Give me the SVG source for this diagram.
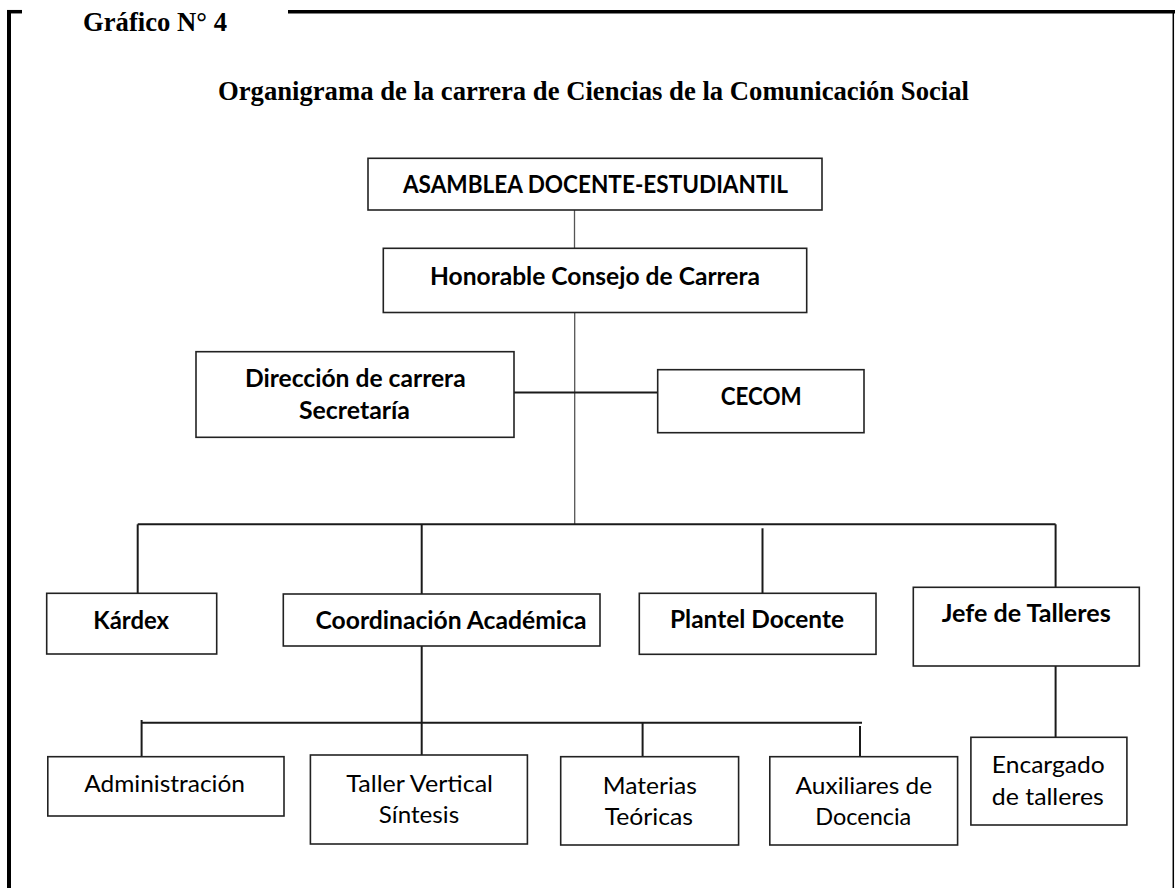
<svg xmlns="http://www.w3.org/2000/svg" width="1175" height="888" viewBox="0 0 1175 888">
<style>
.frame{stroke:#000;fill:none}
.box{fill:#fff;stroke:#222;stroke-width:1.6}
.ttl{font-family:"Liberation Serif","Times New Roman",serif;font-weight:bold;font-size:26.7px;fill:#000}
.b{font-family:Lato,"Open Sans",sans-serif;font-weight:bold;font-size:24px;fill:#000;text-anchor:middle}
.r{font-family:Lato,"Open Sans",sans-serif;font-size:24px;fill:#000;text-anchor:middle}
.c{stroke:#1a1a1a;stroke-width:2;fill:none}
.t{stroke:#555;stroke-width:1.3;fill:none}
</style>
<g id="frame">
<line class="frame" x1="9" y1="10" x2="9" y2="888" stroke-width="4"/>
<line class="frame" x1="7" y1="11.7" x2="22" y2="11.7" stroke-width="3.5"/>
<line class="frame" x1="288" y1="11.7" x2="1175" y2="11.7" stroke-width="3.5"/>
<line class="frame" x1="1173.3" y1="10" x2="1173.3" y2="888" stroke-width="1.5"/>
</g>
<g id="titles">
<text class="ttl" x="83" y="31" textLength="144" lengthAdjust="spacingAndGlyphs">Gráfico N° 4</text>
<text class="ttl" x="218" y="100" textLength="751" lengthAdjust="spacingAndGlyphs">Organigrama de la carrera de Ciencias de la Comunicación Social</text>
</g>
<g id="connectors">
<line class="t" x1="574.5" y1="210" x2="574.5" y2="248.3"/>
<line class="t" x1="574.7" y1="312.5" x2="574.7" y2="524.3"/>
<line class="c" x1="514" y1="392.5" x2="657.7" y2="392.5"/>
<line class="c" x1="137.7" y1="524.3" x2="1055.6" y2="524.3"/>
<line class="c" x1="137.7" y1="524.3" x2="137.7" y2="593.3"/>
<line class="c" x1="421.7" y1="524.3" x2="421.7" y2="594"/>
<line class="c" x1="762.5" y1="528.3" x2="762.5" y2="593.3"/>
<line class="c" x1="1055.6" y1="524.3" x2="1055.6" y2="587.3"/>
<line class="c" x1="421.7" y1="646" x2="421.7" y2="755"/>
<line class="c" x1="141.6" y1="722.7" x2="862" y2="722.7"/>
<line class="c" x1="141.6" y1="720" x2="141.6" y2="756.7"/>
<line class="c" x1="642.6" y1="722.7" x2="642.6" y2="756.7"/>
<line class="c" x1="860" y1="726" x2="860" y2="756.7"/>
<line class="c" x1="1055.6" y1="666" x2="1055.6" y2="737.3"/>
</g>
<g id="asamblea">
<rect class="box" x="368" y="158.3" width="454" height="51.7"/>
<text class="b" x="595.4" y="193.3" textLength="385" lengthAdjust="spacingAndGlyphs">ASAMBLEA DOCENTE-ESTUDIANTIL</text>
</g>
<g id="honorable">
<rect class="box" x="383.3" y="248.3" width="423.4" height="64.2"/>
<text class="b" x="595" y="285" textLength="330" lengthAdjust="spacingAndGlyphs">Honorable Consejo de Carrera</text>
</g>
<g id="direccion">
<rect class="box" x="196" y="351.7" width="318" height="85.6"/>
<text class="b" x="355.3" y="386.7" textLength="220.7" lengthAdjust="spacingAndGlyphs">Dirección de carrera</text>
<text class="b" x="354.5" y="419.3" textLength="111" lengthAdjust="spacingAndGlyphs">Secretaría</text>
</g>
<g id="cecom">
<rect class="box" x="657.7" y="369.7" width="206.3" height="63"/>
<text class="b" x="761.2" y="405.3" textLength="81" lengthAdjust="spacingAndGlyphs">CECOM</text>
</g>
<g id="kardex">
<rect class="box" x="46.7" y="593.3" width="170" height="60.7"/>
<text class="b" x="131.2" y="629.3" textLength="75.7" lengthAdjust="spacingAndGlyphs">Kárdex</text>
</g>
<g id="coordinacion">
<rect class="box" x="283.3" y="594" width="316.7" height="52"/>
<text class="b" x="451" y="629.3" textLength="271" lengthAdjust="spacingAndGlyphs">Coordinación Académica</text>
</g>
<g id="plantel">
<rect class="box" x="639.3" y="593.3" width="236.7" height="61"/>
<text class="b" x="757" y="628.3" textLength="174" lengthAdjust="spacingAndGlyphs">Plantel Docente</text>
</g>
<g id="jefe">
<rect class="box" x="913.3" y="587.3" width="226" height="78.7"/>
<text class="b" x="1026.2" y="621.7" textLength="169" lengthAdjust="spacingAndGlyphs">Jefe de Talleres</text>
</g>
<g id="administracion">
<rect class="box" x="47.8" y="756.7" width="236.2" height="59.3"/>
<text class="r" x="164.6" y="791.7" textLength="160.8" lengthAdjust="spacingAndGlyphs">Administración</text>
</g>
<g id="taller">
<rect class="box" x="310.4" y="755" width="217" height="89"/>
<text class="r" x="419.7" y="791.7" textLength="146.7" lengthAdjust="spacingAndGlyphs">Taller Vertical</text>
<text class="r" x="419" y="823.3" textLength="80.3" lengthAdjust="spacingAndGlyphs">Síntesis</text>
</g>
<g id="materias">
<rect class="box" x="560.7" y="756.7" width="177.9" height="88.3"/>
<text class="r" x="649.8" y="794" textLength="94" lengthAdjust="spacingAndGlyphs">Materias</text>
<text class="r" x="648.9" y="825" textLength="88.4" lengthAdjust="spacingAndGlyphs">Teóricas</text>
</g>
<g id="auxiliares">
<rect class="box" x="769.8" y="756.7" width="187.8" height="88.3"/>
<text class="r" x="863.9" y="794" textLength="136.6" lengthAdjust="spacingAndGlyphs">Auxiliares de</text>
<text class="r" x="863.3" y="825" textLength="96" lengthAdjust="spacingAndGlyphs">Docencia</text>
</g>
<g id="encargado">
<rect class="box" x="970.9" y="737.3" width="156" height="87.7"/>
<text class="r" x="1048.3" y="773.3" textLength="113" lengthAdjust="spacingAndGlyphs">Encargado</text>
<text class="r" x="1047.8" y="805" textLength="112" lengthAdjust="spacingAndGlyphs">de talleres</text>
</g>
</svg>
